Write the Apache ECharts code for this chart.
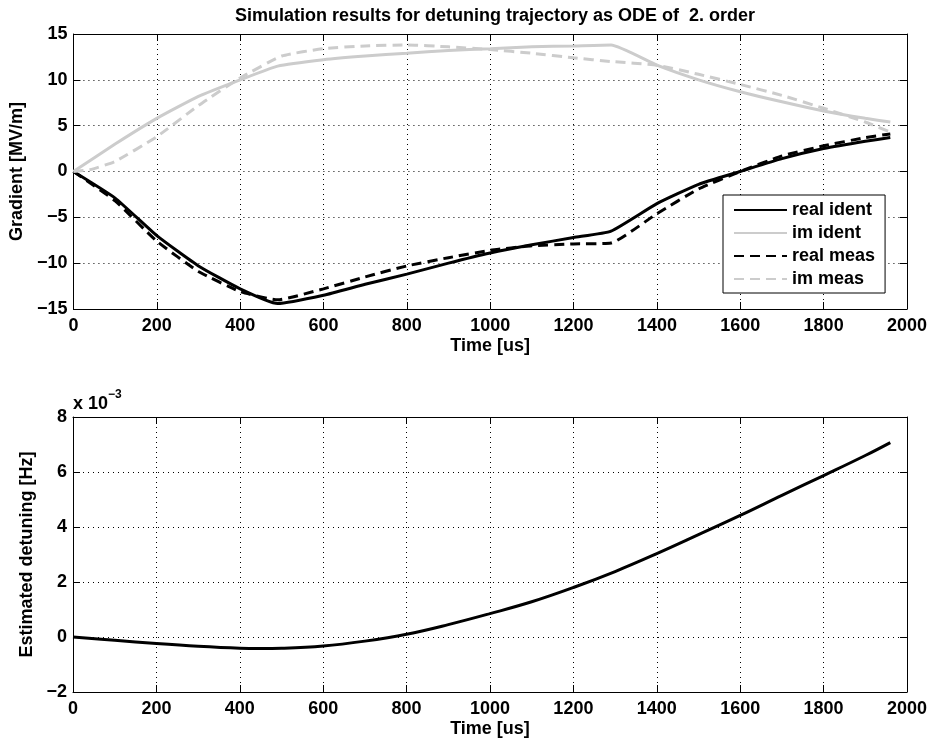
<!DOCTYPE html>
<html>
<head>
<meta charset="utf-8">
<script src="https://cdn.jsdelivr.net/npm/echarts@6/dist/echarts.min.js"></script>
<style>
html,body{margin:0;padding:0;background:#fff;}
#chart{width:930px;height:746px;}
</style>
</head>
<body>
<div id="chart"></div>
<script>
// ---- data ----
var tGrad = [0,100,200,300,400,490,600,700,800,900,1000,1100,1200,1290,1400,1500,1600,1700,1800,1900,1960];
var realIdent = [0,-2.9,-7.0,-10.3,-12.8,-14.4,-13.5,-12.3,-11.2,-10.0,-8.9,-8.0,-7.2,-6.5,-3.5,-1.4,0.0,1.4,2.5,3.3,3.7];
var imIdent   = [0,3.0,5.8,8.2,10.0,11.5,12.2,12.6,12.9,13.2,13.4,13.6,13.7,13.8,11.6,10.0,8.7,7.6,6.6,5.8,5.4];
var realMeas  = [0,-3.2,-7.6,-10.9,-13.1,-14.0,-12.8,-11.5,-10.3,-9.4,-8.6,-8.1,-7.9,-7.8,-4.6,-1.9,0.0,1.7,2.8,3.7,4.1];
var tImMeas   = [0,40,100,200,300,400,500,600,700,800,900,1000,1100,1200,1290,1400,1500,1600,1700,1800,1900,1960];
var imMeas    = [0,0.2,1.1,3.8,7.2,10.2,12.6,13.4,13.7,13.8,13.6,13.3,12.9,12.4,12.0,11.6,10.6,9.5,8.3,6.9,5.4,4.3];
var tDet      = [0,100,200,300,400,450,500,600,700,800,900,1000,1100,1200,1300,1400,1500,1600,1700,1800,1900,1960];
var detuning  = [0,-0.12,-0.24,-0.34,-0.41,-0.42,-0.41,-0.33,-0.15,0.1,0.45,0.85,1.28,1.8,2.38,3.03,3.72,4.42,5.15,5.87,6.6,7.07]; // x 1e-3
var seriesNames = ['real ident','im ident','real meas','im meas'];
var titleText = 'Simulation results for detuning trajectory as ODE of  2. order';

function zip(a,b){return a.map(function(v,i){return [v,b[i]];});}
var FONT = 'Liberation Sans, Arial, Helvetica, sans-serif';
var FS = 18;
function fmt(v){return String(v).replace('-', '\u2212');}

function mainX(gi, name){
  return {type:'value', gridIndex:gi, min:0, max:2000, interval:200, position:'bottom',
    name:name, nameLocation:'middle', nameGap:28,
    nameTextStyle:{fontFamily:FONT, fontWeight:'bold', fontSize:FS, color:'#000'},
    axisLine:{show:true, onZero:false, lineStyle:{color:'#000', width:1}},
    axisTick:{show:true, inside:true, length:7, lineStyle:{color:'#000'}},
    axisLabel:{show:true, margin:8, fontFamily:FONT, fontWeight:'bold', fontSize:FS, color:'#000', formatter:fmt},
    splitLine:{show:true, lineStyle:{color:'#000', width:1, type:[1,4]}}};
}
function dupX(gi){
  return {type:'value', gridIndex:gi, min:0, max:2000, interval:200, position:'top',
    axisLine:{show:true, onZero:false, lineStyle:{color:'#000', width:1}},
    axisTick:{show:true, inside:true, length:7, lineStyle:{color:'#000'}},
    axisLabel:{show:false}, splitLine:{show:false}};
}
function mainY(gi, mn, mx, iv, name, gap){
  return {type:'value', gridIndex:gi, min:mn, max:mx, interval:iv, position:'left',
    name:name, nameLocation:'middle', nameGap:gap,
    nameTextStyle:{fontFamily:FONT, fontWeight:'bold', fontSize:FS, color:'#000'},
    axisLine:{show:true, onZero:false, lineStyle:{color:'#000', width:1}},
    axisTick:{show:true, inside:true, length:7, lineStyle:{color:'#000'}},
    axisLabel:{show:true, margin:6, fontFamily:FONT, fontWeight:'bold', fontSize:FS, color:'#000', formatter:fmt},
    splitLine:{show:true, lineStyle:{color:'#000', width:1, type:[1,4]}}};
}
function dupY(gi, mn, mx, iv){
  return {type:'value', gridIndex:gi, min:mn, max:mx, interval:iv, position:'right',
    axisLine:{show:true, onZero:false, lineStyle:{color:'#000', width:1}},
    axisTick:{show:true, inside:true, length:7, lineStyle:{color:'#000'}},
    axisLabel:{show:false}, splitLine:{show:false}};
}
function line(name, data, color, dashed, xi, yi, sm){
  return {name:name, type:'line', xAxisIndex:xi, yAxisIndex:yi, data:data,
    symbol:'none', showSymbol:false, smooth:sm, animation:false,
    lineStyle:{color:color, width:3, type: dashed ? [10,6] : 'solid'},
    itemStyle:{color:color}, emphasis:{disabled:true}};
}

var GRAY = '#cccccc';
var chart = echarts.init(document.getElementById('chart'), null, {renderer:'canvas'});
chart.setOption({
  backgroundColor:'#fff',
  animation:false,
  title:{text:titleText, left:490, top:2, textAlign:'center',
    textStyle:{fontFamily:FONT, fontWeight:'bold', fontSize:FS, color:'#000'}},
  grid:[
    {left:73, top:34, width:835, height:275, containLabel:false},
    {left:73, top:417, width:835, height:275, containLabel:false}
  ],
  xAxis:[mainX(0,'Time [us]'), dupX(0), mainX(1,'Time [us]'), dupX(1)],
  yAxis:[mainY(0,-15,15,5,'Gradient [MV/m]',42), dupY(0,-15,15,5),
         mainY(1,-2,8,2,'Estimated detuning [Hz]',36), dupY(1,-2,8,2)],
  legend:{show:true, orient:'vertical', left:723, top:195, data:seriesNames,
    itemWidth:53, itemHeight:14, itemGap:3, padding:[5,10,4,10],
    backgroundColor:'#fff', borderColor:'#000', borderWidth:1, borderRadius:0,
    itemStyle:{opacity:0},
    textStyle:{fontFamily:FONT, fontWeight:'bold', fontSize:FS, color:'#000', lineHeight:20},
    selectedMode:false},
  graphic:[{type:'text', left:73, top:389,
    style:{text:'{a|x 10}{b|\u22123}', rich:{
      a:{fontFamily:FONT, fontWeight:'bold', fontSize:FS, fill:'#000', padding:[6,0,0,0]},
      b:{fontFamily:FONT, fontWeight:'bold', fontSize:12, fill:'#000', verticalAlign:'top'}}}}],
  series:[
    line(seriesNames[0], zip(tGrad, realIdent), '#000', false, 0, 0, 0.15),
    line(seriesNames[1], zip(tGrad, imIdent), GRAY, false, 0, 0, 0.15),
    line(seriesNames[2], zip(tGrad, realMeas), '#000', true, 0, 0, 0.15),
    line(seriesNames[3], zip(tImMeas, imMeas), GRAY, true, 0, 0, 0.15),
    line('detuning', zip(tDet, detuning), '#000', false, 2, 2, 0.4)
  ]
});
</script>
</body>
</html>
